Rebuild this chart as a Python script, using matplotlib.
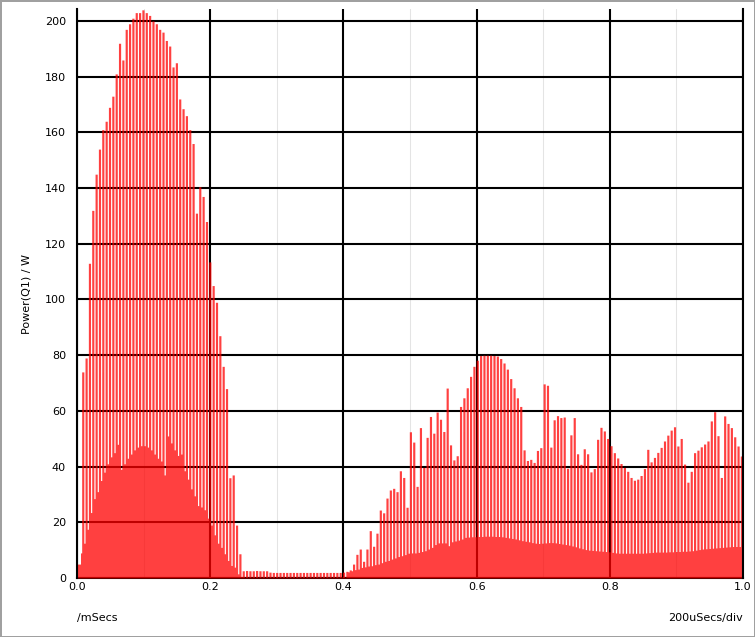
"""
plot.py - potencia dissipada em Q1 (forma de onda chaveada, 0..1 ms).

Cada ciclo de chaveamento vira um pico estreito (perdas de comutacao)
seguido de um patamar mais baixo (perdas de conducao).
"""

import numpy as np
import matplotlib
matplotlib.use("Agg")
import matplotlib.pyplot as plt
from matplotlib.ticker import MultipleLocator, FormatStrFormatter

# periodo de chaveamento (ms) e instante do primeiro pico
PERIOD = 0.00502
T0 = 0.002

# altura do pico de cada ciclo (W)
peak_w = [
    5, 74, 79, 113, 132, 145, 154, 161, 164, 169,
    173, 181, 192, 186, 197, 199, 201, 203, 203, 204,
    203, 202, 200, 199, 197, 196, 193, 191, 183.5, 185,
    172, 168.5, 166, 161, 156, 131, 140.5, 137, 128, 113.5,
    105, 99, 87, 76, 68, 36, 37, 19, 8.7, 2.6,
    2.7, 2.6, 2.6, 2.7, 2.6, 2.6, 2.6, 2.1, 2.0, 2.0,
    2.0, 2.0, 2.0, 2.0, 2.0, 2.0, 2.0, 2.0, 2.0, 2.0,
    2.0, 2.0, 2.0, 2.0, 2.0, 2.0, 2.0, 2.0, 2.0, 2.1,
    2.4, 2.9, 5, 8.5, 10.4, 6, 10.4, 17, 11.4, 16.1,
    24.4, 23.4, 28.7, 31.6, 32.2, 31, 38.5, 36.1, 25.4, 52.5,
    48.8, 32.9, 54, 39.7, 50.5, 58, 52, 59.6, 57, 52.6,
    68.2, 47.8, 42.4, 43.9, 61.6, 64.7, 68.3, 72.4, 76, 78.2,
    79.9, 80, 80, 80, 79.9, 79.7, 78.8, 77.2, 75, 71.6,
    68.3, 64.7, 61.6, 46, 42.2, 42.6, 41.5, 45.8, 46.8, 69.7,
    69.2, 47, 56.8, 58.3, 57.6, 57.8, 39.4, 51.4, 57.6, 44.6,
    40.8, 46.4, 44.6, 38.1, 39.3, 49.8, 54.1, 52.8, 50.1, 47.5,
    45, 43.1, 41.1, 39.7, 38.3, 36.1, 35.1, 35.5, 36.8, 39.3,
    46.2, 41.7, 43.3, 45.1, 46.9, 49.2, 51.3, 53.1, 54.3, 47.4,
    50.1, 40.9, 34.4, 38.3, 45, 45.9, 47.1, 48.1, 49.2, 56.4,
    59.7, 51.1, 36.1, 58.2, 55.5, 54, 50.7, 47.4, 43.8,
]

# patamar entre um pico e o seguinte (W)
base_w = [
    9, 12.5, 17.5, 23.5, 28.5, 31, 35, 38, 41, 43.5,
    45, 48, 39, 41, 43, 44.5, 46, 47, 47.5, 47.5,
    47, 46, 44.5, 43, 42, 37, 51, 48.5, 46, 44,
    44.5, 38.5, 35.5, 32, 29.5, 26, 25.5, 24.5, 21.5, 19,
    15.5, 12.5, 11, 8.7, 6.3, 4.5, 3.9, 1.5, 0.5, 0.3,
    0.3, 0.3, 0.3, 0.3, 0.3, 0.3, 0.3, 0.3, 0.3, 0.3,
    0.3, 0.3, 0.3, 0.3, 0.3, 0.3, 0.3, 0.3, 0.3, 0.3,
    0.3, 0.3, 0.3, 0.3, 0.3, 0.3, 0.3, 0.3, 0.3, 0.3,
    2.2, 2.6, 3, 3.2, 3.8, 4, 4.3, 4.4, 4.8, 5,
    5.5, 6, 6.3, 6.8, 7.2, 7.7, 8, 8.4, 8.9, 9,
    9, 9.2, 9.5, 9.8, 10.4, 11, 12, 12.6, 12.6, 12.6,
    11.6, 13, 13.3, 13.6, 14, 14.6, 14.7, 14.8, 14.8, 14.9,
    14.9, 15, 15, 15, 14.9, 14.9, 14.8, 14.6, 14.4, 14.2,
    14, 13.7, 13.4, 13.2, 13, 12.7, 12.5, 12.4, 12.5, 12.6,
    12.7, 12.7, 12.6, 12.4, 12.2, 12, 11.8, 11.5, 11.2, 10.8,
    10.5, 10.2, 10, 9.9, 9.8, 9.7, 9.6, 9.5, 9.4, 9.2,
    9, 8.9, 8.9, 8.9, 8.9, 8.9, 8.9, 8.9, 8.9, 9,
    9.1, 9.2, 9.3, 9.3, 9.3, 9.3, 9.4, 9.4, 9.5, 9.5,
    9.6, 9.6, 9.7, 9.8, 10, 10.2, 10.4, 10.5, 10.6, 10.7,
    10.8, 10.9, 11, 11.1, 11.2, 11.3, 11.3, 11.3, 11.3,
]

x_ticks = [0.0, 0.2, 0.4, 0.6, 0.8, 1.0]
y_ticks = [0, 20, 40, 60, 80, 100, 120, 140, 160, 180, 200]


def build_wave(peaks, bases, duty=0.65):
    """Forma de onda em degraus: pico no inicio do ciclo, patamar no resto."""
    n = len(peaks)
    t = T0 + PERIOD * np.arange(n)
    edges = np.empty(2 * n + 1)
    edges[0:-1:2] = t
    edges[1::2] = t + duty * PERIOD
    edges[0] = 0.0
    edges[-1] = 1.0
    vals = np.empty(2 * n)
    vals[0::2] = peaks
    vals[1::2] = bases
    return edges, np.append(vals, vals[-1])


W, H = 755, 637
fig = plt.figure(figsize=(W / 100, H / 100), dpi=100,
                 linewidth=2, edgecolor="#a0a0a0")
ax = fig.add_axes([77 / W, 59 / H, 666 / W, 569 / H])

edges, wave = build_wave(peak_w, base_w)
ax.fill_between(edges, wave, step="post", color="red", alpha=0.75,
                linewidth=0, zorder=2)

ax.set_xlim(0, 1)
ax.set_ylim(0, 204.3)
ax.set_xticks(x_ticks)
ax.set_yticks(y_ticks)
ax.xaxis.set_minor_locator(MultipleLocator(0.1))
ax.xaxis.set_major_formatter(FormatStrFormatter("%.1f"))

ax.set_axisbelow(True)
ax.grid(which="major", color="black", linewidth=1.5)
ax.grid(which="minor", axis="x", color="#e4e4e4", linewidth=0.75)
ax.tick_params(which="both", length=0, labelsize=8)
ax.tick_params(axis="y", pad=8)
ax.tick_params(axis="x", pad=3)

ax.spines["top"].set_visible(False)
for side in ("left", "right", "bottom"):
    ax.spines[side].set_linewidth(1.5)
    ax.spines[side].set_color("black")
ax.spines["bottom"].set_zorder(1)

ax.set_ylabel("Power(Q1) / W", fontsize=8)
ax.yaxis.set_label_coords(-0.069, 0.5)

fig.text(77 / W, 1 - 618 / H, "/mSecs", ha="left", va="center", fontsize=8)
fig.text(743 / W, 1 - 618 / H, "200uSecs/div", ha="right", va="center",
         fontsize=8)

fig.savefig("out.png", dpi=100, edgecolor=fig.get_edgecolor())
